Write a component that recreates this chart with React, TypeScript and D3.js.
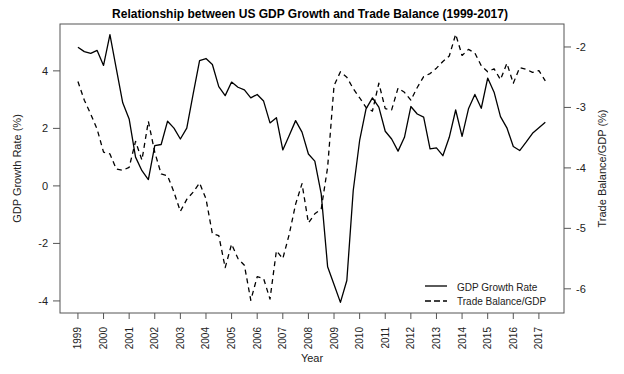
import React from 'react';
import * as d3 from 'd3';

// quarterly values, 1999 Q1 .. 2017 Q2
const startYear = 1999;
const gdpGrowth = [
  4.82, 4.67, 4.61, 4.71, 4.19, 5.26, 4.07, 2.89, 2.33, 1.0,
  0.53, 0.22, 1.4, 1.44, 2.25, 2.01, 1.63, 2.01, 3.2, 4.36,
  4.43, 4.22, 3.45, 3.14, 3.61, 3.43, 3.34, 3.06, 3.18, 2.95,
  2.19, 2.37, 1.25, 1.75, 2.27, 1.87, 1.11, 0.86, -0.28, -2.81,
  -3.43, -4.05, -3.29, -0.16, 1.58, 2.68, 3.06, 2.74, 1.9, 1.63,
  1.21, 1.69, 2.76, 2.5, 2.39, 1.29, 1.32, 1.05, 1.69, 2.64,
  1.72, 2.68, 3.18, 2.7, 3.75, 3.26, 2.41, 2.02, 1.37, 1.23,
  1.52, 1.83, 2.02, 2.21,
];
const tradeBalance = [
  -2.57, -2.88, -3.11, -3.36, -3.74, -3.77, -4.02, -4.04, -3.99, -3.56,
  -3.87, -3.23, -3.74, -4.1, -4.13, -4.4, -4.72, -4.52, -4.4, -4.25,
  -4.51, -5.09, -5.12, -5.65, -5.26, -5.5, -5.61, -6.19, -5.8, -5.83,
  -6.17, -5.37, -5.5, -5.1, -4.6, -4.26, -4.91, -4.76, -4.68, -3.99,
  -2.64, -2.41, -2.5, -2.69, -2.84, -3.0, -3.06, -2.6, -3.02, -3.04,
  -2.68, -2.75, -2.88, -2.67, -2.49, -2.44, -2.35, -2.24, -2.15, -1.79,
  -2.14, -2.04, -2.1, -2.31, -2.41, -2.36, -2.54, -2.27, -2.6, -2.34,
  -2.37, -2.42, -2.39, -2.56,
];
const yearTicks = d3.range(1999, 2018);
const leftTicks = [-4, -2, 0, 2, 4];
const rightTicks = [-6, -5, -4, -3, -2];

const W = 624;
const H = 374;
const frame = { left: 60, right: 564, top: 24, bottom: 313 };
const font = '"Liberation Sans", Arial, sans-serif';

export default function App() {
  const x = d3.scaleLinear().domain([1998.3, 2017.98]).range([frame.left, frame.right]);
  const yL = d3.scaleLinear().domain([-4.42, 5.63]).range([frame.bottom, frame.top]);
  const yR = d3.scaleLinear().domain([-6.4, -1.62]).range([frame.bottom, frame.top]);

  const t = (i: number) => startYear + i / 4;
  const gdpLine = d3.line<number>().x((_, i) => x(t(i))).y(d => yL(d))(gdpGrowth) || '';
  const tbLine = d3.line<number>().x((_, i) => x(t(i))).y(d => yR(d))(tradeBalance) || '';

  const axisColor = '#555';
  const midY = (frame.top + frame.bottom) / 2;

  return (
    <svg width={W} height={H} style={{ position: 'absolute', left: 0, top: 0, background: '#fff' }}
      fontFamily={font}>
      <rect x={0} y={0} width={W} height={H} fill="#fff" />
      <text x={310} y={18} textAnchor="middle" fontSize={12} fontWeight="bold" fill="#000">
        Relationship between US GDP Growth and Trade Balance (1999-2017)
      </text>

      <rect x={frame.left} y={frame.top} width={frame.right - frame.left}
        height={frame.bottom - frame.top} fill="none" stroke={axisColor} strokeWidth={1} />

      {/* left axis */}
      {leftTicks.map(v => (
        <g key={'l' + v}>
          <line x1={frame.left - 7} x2={frame.left} y1={yL(v)} y2={yL(v)} stroke={axisColor} />
          <text x={frame.left - 12} y={yL(v)} dy="0.35em" textAnchor="end" fontSize={11} fill="#222">
            {v}
          </text>
        </g>
      ))}
      <text transform={`translate(21,${midY}) rotate(-90)`} textAnchor="middle" fontSize={11} fill="#222">
        GDP Growth Rate (%)
      </text>

      {/* right axis */}
      {rightTicks.map(v => (
        <g key={'r' + v}>
          <line x1={frame.right} x2={frame.right + 7} y1={yR(v)} y2={yR(v)} stroke={axisColor} />
          <text x={frame.right + 12} y={yR(v)} dy="0.35em" textAnchor="start" fontSize={11} fill="#222">
            {v}
          </text>
        </g>
      ))}
      <text transform={`translate(606,${midY}) rotate(-90)`} textAnchor="middle" fontSize={11} fill="#222">
        Trade Balance/GDP (%)
      </text>

      {/* x axis */}
      {yearTicks.map(yr => (
        <g key={yr}>
          <line x1={x(yr)} x2={x(yr)} y1={frame.bottom} y2={frame.bottom + 6} stroke={axisColor} />
          <text transform={`translate(${x(yr)},${frame.bottom + 14}) rotate(-90)`} textAnchor="end"
            dy="0.35em" fontSize={10} fill="#222">
            {yr}
          </text>
        </g>
      ))}
      <text x={(frame.left + frame.right) / 2} y={362} textAnchor="middle" fontSize={11} fill="#222">
        Year
      </text>

      <path d={gdpLine} fill="none" stroke="#000" strokeWidth={1.3} strokeLinejoin="round" />
      <path d={tbLine} fill="none" stroke="#000" strokeWidth={1.3} strokeDasharray="5,4" strokeLinejoin="round" />

      {/* legend */}
      <line x1={425} x2={447} y1={286} y2={286} stroke="#000" strokeWidth={1.3} />
      <text x={457} y={287} dy="0.35em" fontSize={10} fill="#222">GDP Growth Rate</text>
      <line x1={425} x2={447} y1={301} y2={301} stroke="#000" strokeWidth={1.3} strokeDasharray="6,3" />
      <text x={457} y={301} dy="0.35em" fontSize={10} fill="#222">Trade Balance/GDP</text>
    </svg>
  );
}
